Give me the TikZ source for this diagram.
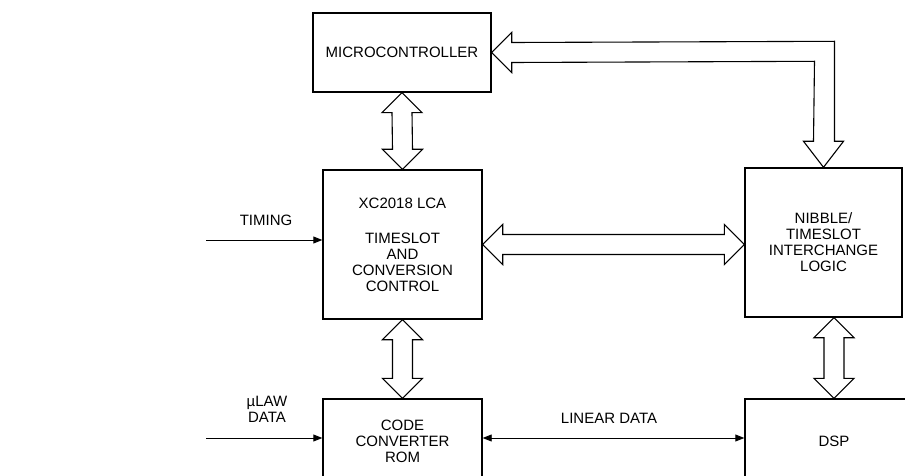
\documentclass[tikz,border=0pt]{standalone}
\usepackage{fontspec}
\setmainfont{Liberation Sans}
\usetikzlibrary{arrows.meta,calc}

\tikzset{
  blk/.style={draw, line width=1.4pt, align=center, inner sep=0pt},
  bus/.style={draw, line width=1.1pt, line join=miter},
  sig/.style={line width=0.9pt, -{Triangle[length=9pt,width=7pt]}},
}

% vertical double bus arrow, top tip #1, bottom tip #2
\newcommand{\vbus}[2]{\draw[bus] (#1) -- ++(-20,20) -- ++(10,0) -- ($(#2)+(-10,-20)$) -- ++(-10,0) -- (#2) -- ++(20,-20) -- ++(-10,0) -- ($(#1)+(10,20)$) -- ++(10,0) -- cycle;}
% horizontal double bus arrow, left tip #1, right tip #2
\newcommand{\hbus}[2]{\draw[bus] (#1) -- ++(20,-20) -- ++(0,10) -- ($(#2)+(-20,-10)$) -- ++(0,-10) -- (#2) -- ++(-20,20) -- ++(0,-10) -- ($(#1)+(20,10)$) -- ++(0,10) -- cycle;}

\begin{document}
\begin{tikzpicture}[x=1pt, y=-1pt, font=\fontsize{15}{16}\selectfont]
	\clip (0,0) rectangle (905,476);
	% blocks
	\node[blk, minimum width=178, minimum height=79] (mcu) at (402,52.5) {MICROCONTROLLER};
	\node[blk, minimum width=159, minimum height=149] (xc) at (402.5,244.5) {XC2018 LCA\\[19pt]TIMESLOT\\AND\\CONVERSION\\CONTROL};
	\node[blk, minimum width=157, minimum height=149] (nib) at (823.5,242.5) {NIBBLE/\\TIMESLOT\\INTERCHANGE\\LOGIC};
	\node[blk, minimum width=159, minimum height=84] (ccr) at (402.5,441) {CODE\\CONVERTER\\ROM};
	\node[blk, minimum width=178, minimum height=84] (dsp) at (834,441) {DSP};

	% buses
	\vbus{mcu.south}{xc.north}
	\vbus{xc.south}{ccr.north}
	\coordinate (nibs) at (nib.south -| dsp.north);
	\vbus{nibs}{dsp.north}
	\coordinate (nibw) at (xc.east -| nib.west);
	\hbus{xc.east}{nibw}
	\draw[bus] (mcu.east) -- ++(20,-20) -- ++(0,10) -- ($(nib.north)+(11,-126)$) -- ($(nib.north)+(11,-26)$) -- ++(9,0) -- (nib.north) -- ++(-20,-26) -- ++(10,0) -- ($(nib.north)+(-9,-106)$) -- ($(mcu.east)+(20,10)$) -- ++(0,10) -- cycle;

	% signals
	\coordinate (tin) at (206,240);
	\draw[sig] (tin) -- (tin -| xc.west);
	\node (timing) at (266,220) {TIMING};
	\coordinate (uin) at (206,438);
	\draw[sig] (uin) -- (uin -| ccr.west);
	\node[align=center] (ulaw) at (267,409) {µLAW\\DATA};
	\draw[sig, {Triangle[length=9pt,width=7pt]}-{Triangle[length=9pt,width=7pt]}] (uin -| ccr.east) -- (uin -| dsp.west);
	\node (lin) at (609,418) {LINEAR DATA};
\end{tikzpicture}
\end{document}
